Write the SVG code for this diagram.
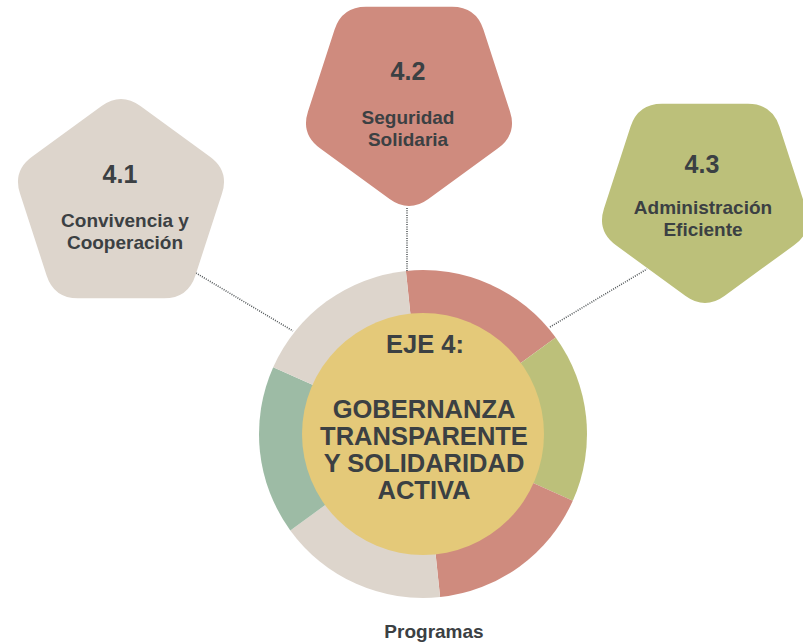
<svg xmlns="http://www.w3.org/2000/svg" width="803" height="644" viewBox="0 0 803 644">
  <style>
    .t { font-family: "Liberation Sans", Arial, sans-serif; font-weight: bold; fill: #3b4043; text-anchor: middle; }
    .num { font-size: 25px; }
    .lbl { font-size: 19px; }
    .big { font-size: 25.5px; }
    .beige { fill: #ddd5cc; }
    .red { fill: #cf8b7e; }
    .olive { fill: #bcc07a; }
    .green { fill: #9dbba5; }
    .yellow { fill: #e4c979; }
    .conn { stroke: #555a5c; stroke-width: 1.6; stroke-dasharray: 1 1.3; fill: none; }
  </style>
  <defs>
    <path id="penta" d="M19.4,-99.9 L89,-49.3 Q108.4,-35.2 101,-12.4 L74.4,69.4 Q67,92.2 43,92.2 L-43,92.2 Q-67,92.2 -74.4,69.4 L-101,-12.4 Q-108.4,-35.2 -89,-49.3 L-19.4,-99.9 Q0,-114 19.4,-99.9 Z"/>
  </defs>
  <rect width="803" height="644" fill="#ffffff"/>

  <g id="connectors">
    <line class="conn" x1="196" y1="273" x2="293" y2="331"/>
    <line class="conn" x1="407" y1="208" x2="407" y2="272"/>
    <line class="conn" x1="550" y1="327" x2="647" y2="269"/>
  </g>

  <g id="node-4-1">
    <use href="#penta" class="beige" transform="translate(121,206)"/>
    <text class="t num" x="120" y="183">4.1</text>
    <text class="t lbl" x="125" y="227">Convivencia y</text>
    <text class="t lbl" x="125" y="249">Cooperación</text>
  </g>

  <g id="node-4-2">
    <use href="#penta" class="red" transform="translate(409,99) rotate(180)"/>
    <text class="t num" x="408" y="80">4.2</text>
    <text class="t lbl" x="408" y="124">Seguridad</text>
    <text class="t lbl" x="408" y="146">Solidaria</text>
  </g>

  <g id="node-4-3">
    <use href="#penta" class="olive" transform="translate(705,196) rotate(180)"/>
    <text class="t num" x="702" y="173">4.3</text>
    <text class="t lbl" x="703" y="214">Administración</text>
    <text class="t lbl" x="703" y="236">Eficiente</text>
  </g>

  <g id="node-eje4">
    <path class="red" d="M423,434 L405.9,270.9 A164,164 0 0 1 555.7,337.6 Z"/>
    <path class="olive" d="M423,434 L555.7,337.6 A164,164 0 0 1 572.8,500.7 Z"/>
    <path class="red" d="M423,434 L572.8,500.7 A164,164 0 0 1 440.1,597.1 Z"/>
    <path class="beige" d="M423,434 L440.1,597.1 A164,164 0 0 1 290.3,530.4 Z"/>
    <path class="green" d="M423,434 L290.3,530.4 A164,164 0 0 1 273.2,367.3 Z"/>
    <path class="beige" d="M423,434 L273.2,367.3 A164,164 0 0 1 405.9,270.9 Z"/>
    <circle class="yellow" cx="423" cy="434" r="121"/>
    <text class="t big" x="425" y="353">EJE 4:</text>
    <text class="t big" x="424" y="418">GOBERNANZA</text>
    <text class="t big" x="424" y="445">TRANSPARENTE</text>
    <text class="t big" x="424" y="472">Y SOLIDARIDAD</text>
    <text class="t big" x="424" y="499">ACTIVA</text>
  </g>

  <g id="label-programas">
    <text class="t lbl" x="434" y="638">Programas</text>
  </g>
</svg>
